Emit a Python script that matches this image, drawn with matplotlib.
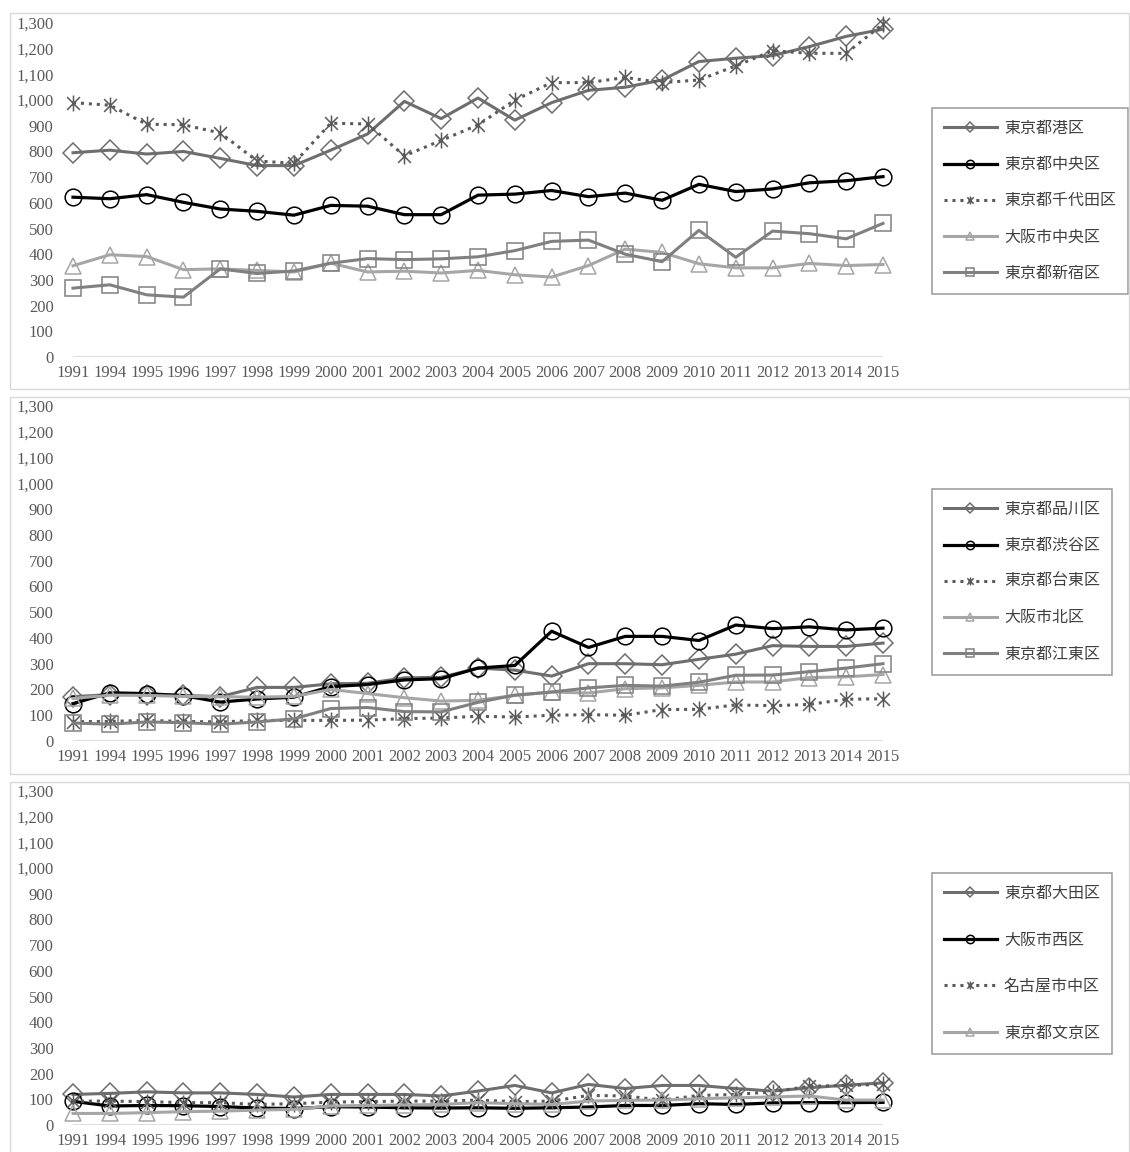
import matplotlib
matplotlib.use("Agg")
import matplotlib.pyplot as plt
from matplotlib.path import Path
from matplotlib.patches import Rectangle
from matplotlib.ticker import FuncFormatter

# categories (1992 and 1993 are not in the series)
years = ['1991', '1994', '1995', '1996', '1997', '1998', '1999', '2000', '2001', '2002', '2003', '2004',
         '2005', '2006', '2007', '2008', '2009', '2010', '2011', '2012', '2013', '2014', '2015']

# top panel
minato = [795, 805, 790, 800, 773, 745, 745, 805, 868, 995, 928, 1008, 922, 990, 1038, 1050, 1078, 1150, 1163, 1173, 1208, 1248, 1276]
chuo = [622, 616, 632, 602, 576, 567, 552, 590, 587, 554, 554, 630, 634, 648, 624, 638, 610, 672, 644, 654, 678, 686, 702]
chiyoda = [990, 980, 906, 904, 872, 763, 754, 910, 907, 783, 843, 903, 1000, 1068, 1068, 1088, 1068, 1078, 1133, 1192, 1182, 1182, 1296]
osaka_chuo = [355, 398, 391, 340, 343, 337, 331, 365, 331, 334, 327, 337, 320, 311, 356, 420, 407, 363, 347, 347, 364, 356, 360]
shinjuku = [268, 281, 242, 233, 343, 325, 335, 365, 383, 379, 382, 390, 414, 450, 455, 400, 371, 493, 388, 490, 480, 460, 520]

# middle panel
shinagawa = [172, 180, 180, 177, 172, 208, 208, 222, 224, 245, 247, 283, 275, 252, 300, 300, 296, 317, 337, 370, 367, 367, 380]
shibuya = [145, 187, 184, 176, 151, 163, 170, 211, 219, 237, 242, 283, 293, 426, 363, 406, 406, 390, 450, 436, 443, 431, 438]
taito = [75, 76, 80, 76, 74, 80, 80, 80, 81, 87, 89, 96, 93, 100, 102, 100, 122, 123, 140, 137, 142, 162, 164]
osaka_kita = [165, 178, 177, 173, 172, 170, 173, 200, 184, 168, 155, 158, 177, 190, 186, 203, 206, 216, 229, 229, 246, 249, 258]
koto = [70, 65, 74, 71, 65, 74, 86, 126, 130, 114, 113, 150, 178, 190, 206, 216, 213, 228, 255, 256, 269, 283, 300]

# bottom panel
ota = [119, 123, 129, 125, 125, 119, 109, 119, 119, 119, 113, 132, 154, 125, 158, 142, 154, 154, 142, 132, 145, 155, 164]
osaka_nishi = [92, 74, 76, 75, 72, 66, 64, 71, 70, 67, 66, 67, 65, 67, 70, 76, 76, 83, 80, 86, 87, 87, 88]
naka = [93, 93, 91, 87, 87, 80, 83, 89, 91, 93, 93, 97, 91, 93, 115, 113, 97, 115, 119, 129, 151, 154, 158]
bunkyo = [45, 45, 48, 52, 54, 58, 61, 74, 76, 78, 80, 87, 83, 80, 93, 96, 97, 102, 106, 109, 113, 97, 97]

# excel-like star: x with a vertical bar
star = Path([(-1, -1), (1, 1), (-1, 1), (1, -1), (0, -1.25), (0, 1.25)],
            [Path.MOVETO, Path.LINETO, Path.MOVETO, Path.LINETO, Path.MOVETO, Path.LINETO])

styles = [
    dict(color='#6e6e6e', marker='D', ls='-', lw=2.2, ms=10.5),
    dict(color='black', marker='o', ls='-', lw=2.3, ms=12),
    dict(color='#5a5a5a', marker=star, ls=(0, (1, 1.6)), lw=2.2, ms=11.5),
    dict(color='#a6a6a6', marker='^', ls='-', lw=2.2, ms=11.5),
    dict(color='#808080', marker='s', ls='-', lw=2.2, ms=11.5),
]

panels = [
    (23, 357, [minato, chuo, chiyoda, osaka_chuo, shinjuku],
     ['東京都港区', '東京都中央区', '東京都千代田区', '大阪市中央区', '東京都新宿区'], (13, 389), 108, 1.2),
    (406, 741, [shinagawa, shibuya, taito, osaka_kita, koto],
     ['東京都品川区', '東京都渋谷区', '東京都台東区', '大阪市北区', '東京都江東区'], (397, 774), 489, 1.2),
    (791, 1125, [ota, osaka_nishi, naka, bunkyo],
     ['東京都大田区', '大阪市西区', '名古屋市中区', '東京都文京区'], (782, 1160), 873, 1.85),
]

W, H = 1130, 1152
fig = plt.figure(figsize=(W / 100, H / 100), dpi=100)
cjk = ['Noto Sans CJK JP', 'DejaVu Sans']
x = list(range(len(years)))

for top, bottom, series, names, frame, leg_top, spacing in panels:
    fig.patches.append(Rectangle((10 / W, 1 - frame[1] / H), (W - 11) / W, (frame[1] - frame[0]) / H,
                                 transform=fig.transFigure, fill=False, ec='#d9d9d9', lw=1))
    ax = fig.add_axes([73 / W, 1 - bottom / H, (883 - 73) / W, (bottom - top) / H])
    for vals, name, st in zip(series, names, styles):
        ax.plot(x, vals, color=st['color'], ls=st['ls'], lw=st['lw'], marker=st['marker'],
                ms=st['ms'], mfc='none', mec=st['color'], mew=1.1, label=name, clip_on=False, zorder=3)
    ax.set_xlim(0, len(years) - 1)
    ax.set_ylim(0, 1300)
    ax.set_yticks(range(0, 1301, 100))
    ax.yaxis.set_major_formatter(FuncFormatter(lambda v, p: f'{int(v):,}'))
    ax.set_xticks(x)
    ax.set_xticklabels(years)
    ax.axhline(0, color='#d9d9d9', lw=1.2, zorder=1)
    for s in ax.spines.values():
        s.set_visible(False)
    ax.tick_params(length=0, labelsize=12, labelcolor='#595959', pad=14)
    ax.tick_params(axis='x', pad=6)
    for lab in ax.get_xticklabels() + ax.get_yticklabels():
        lab.set_family('Liberation Serif')
    ax.set_facecolor('none')

    leg = ax.legend(loc='upper left', bbox_to_anchor=(932 / W, 1 - leg_top / H), bbox_transform=fig.transFigure,
                    frameon=True, fancybox=False, edgecolor='#7f7f7f', markerscale=0.5,
                    handlelength=3.3, handletextpad=0.45, labelspacing=spacing, borderpad=0.75,
                    borderaxespad=0, prop={'family': cjk, 'size': 11.5})
    leg.get_frame().set_linewidth(1.1)
    for t in leg.get_texts():
        t.set_color('#404040')

fig.savefig('out.png', dpi=100)
